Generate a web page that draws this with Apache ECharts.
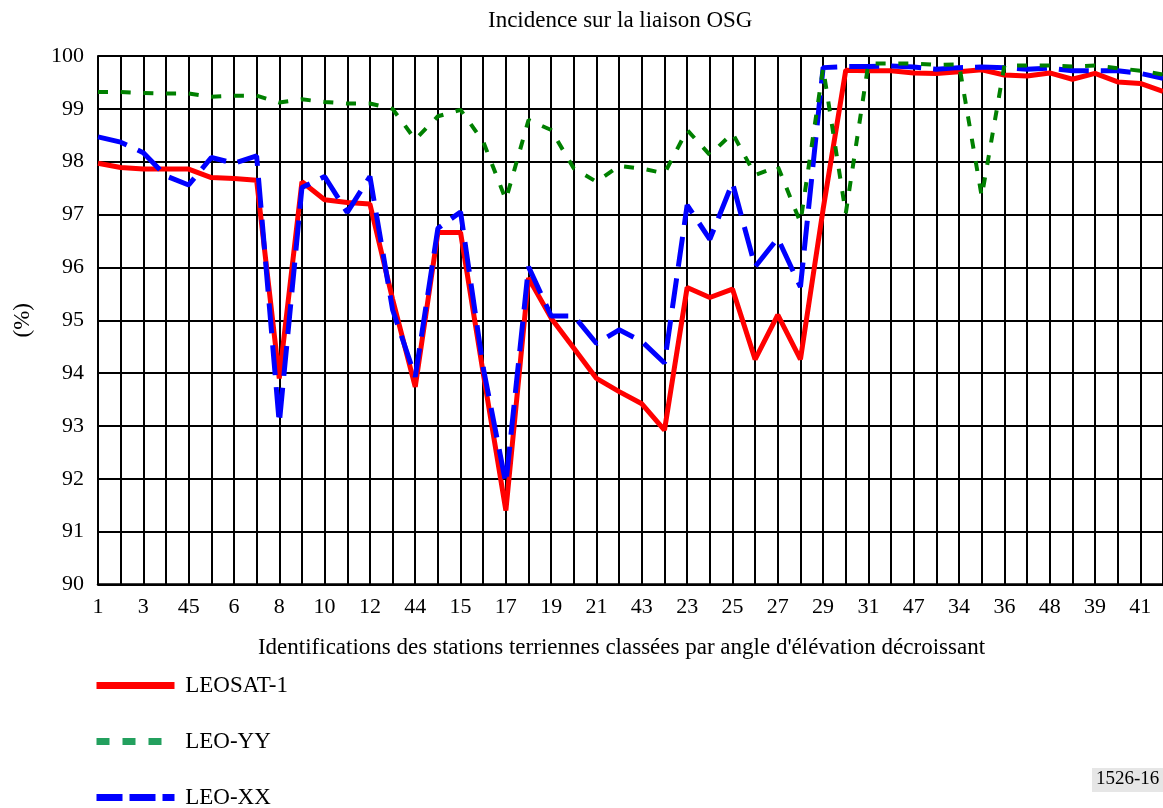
<!DOCTYPE html>
<html>
<head>
<meta charset="utf-8">
<script src="https://cdn.jsdelivr.net/npm/echarts@6/dist/echarts.min.js"></script>
<style>
  html, body { margin: 0; padding: 0; background: #fff; }
  #main { width: 1163px; height: 808px; }
</style>
</head>
<body>
<div id="main"></div>
<script>
// stations, sorted by decreasing elevation angle
var stations = ['1','2','3','4','45','5','6','7','8','9','10','11','12','13','44','14',
  '15','16','17','18','19','20','21','22','43','42','23','24','25','26','27','28',
  '29','30','31','32','47','33','34','35','36','37','48','38','39','40','41','46']

// incidence (%)
var leosat1 = [97.97, 97.89, 97.86, 97.86, 97.86, 97.70, 97.68, 97.65, 93.9, 97.62, 97.28, 97.23,
  97.2, 95.4, 93.74, 96.66, 96.66, 94.0, 91.4, 95.8, 95.04, 94.47, 93.9, 93.65,
  93.42, 92.92, 95.62, 95.43, 95.59, 94.26, 95.1, 94.26, 97.1, 99.73, 99.72, 99.72,
  99.68, 99.67, 99.70, 99.74, 99.64, 99.62, 99.68, 99.56, 99.67, 99.51, 99.48, 99.33]

var leoYY = [99.32, 99.32, 99.30, 99.29, 99.29, 99.23, 99.25, 99.25, 99.12, 99.18, 99.13, 99.10,
  99.10, 99.0, 98.42, 98.86, 98.98, 98.38, 97.28, 98.79, 98.6, 97.87, 97.62, 97.92,
  97.87, 97.78, 98.6, 98.13, 98.54, 97.75, 97.91, 96.85, 99.77, 97.02, 99.86, 99.86,
  99.86, 99.83, 99.84, 97.34, 99.82, 99.82, 99.82, 99.80, 99.82, 99.77, 99.72, 99.65]

var leoXX = [98.47, 98.37, 98.17, 97.73, 97.56, 98.08, 97.97, 98.11, 93.05, 97.51, 97.72, 97.04,
  97.72, 95.2, 93.93, 96.74, 97.05, 94.1, 91.91, 96.01, 95.08, 95.08, 94.56, 94.82,
  94.6, 94.19, 97.18, 96.53, 97.6, 96.01, 96.55, 95.63, 99.78, 99.8, 99.8, 99.81,
  99.79, 99.75, 99.78, 99.79, 99.78, 99.75, 99.77, 99.72, 99.72, 99.72, 99.67, 99.58]

var yTicks = { min: 90, max: 100, step: 1 }

var font = '"Liberation Serif", "Times New Roman", serif'

var myChart = echarts.init(document.getElementById('main'))

// legend icons: plain line, no symbol
var noSymbol = { opacity: 0, borderWidth: 0 }

myChart.setOption({
  animation: false,
  backgroundColor: '#fff',
  textStyle: { fontFamily: font, color: '#000' },
  title: {
    text: 'Incidence sur la liaison OSG',
    left: 483,
    top: 4,
    textStyle: { fontFamily: font, fontSize: 23, fontWeight: 'normal', color: '#000' }
  },
  grid: { left: 98, top: 56, width: 1066, height: 528.5, containLabel: false },
  legend: {
    orient: 'vertical',
    left: 93,
    top: 674,
    height: 140,
    padding: 0,
    itemWidth: 78,
    itemHeight: 14,
    itemGap: 33,
    formatter: ' {name}',
    textStyle: { fontFamily: font, fontSize: 23, color: '#000' },
    data: [
      { name: 'LEOSAT-1', itemStyle: noSymbol, lineStyle: { color: '#ff0000', width: 7, type: 'solid' } },
      { name: 'LEO-YY', itemStyle: noSymbol, lineStyle: { color: '#23a05e', width: 7, type: [13, 13] } },
      { name: 'LEO-XX', itemStyle: noSymbol, lineStyle: { color: '#0000ff', width: 7, type: [26, 7] } }
    ]
  },
  xAxis: {
    type: 'category',
    data: stations,
    boundaryGap: false,
    name: "Identifications des stations terriennes classées par angle d'élévation décroissant",
    nameLocation: 'middle',
    nameGap: 52,
    nameTextStyle: { fontFamily: font, fontSize: 23, color: '#000', padding: [0, 18, 0, 0] },
    axisLine: { lineStyle: { color: '#000', width: 2.5 } },
    axisTick: { show: false },
    axisLabel: { interval: 1, margin: 12, fontFamily: font, fontSize: 22, color: '#000' },
    splitLine: { show: true, interval: 0, lineStyle: { color: '#000', width: 2 } }
  },
  yAxis: {
    type: 'value',
    min: yTicks.min,
    max: yTicks.max,
    interval: yTicks.step,
    name: '(%)',
    nameLocation: 'middle',
    nameGap: 64,
    nameTextStyle: { fontFamily: font, fontSize: 23, color: '#000' },
    axisLine: { show: true, lineStyle: { color: '#000', width: 2 } },
    axisTick: { show: false },
    axisLabel: { margin: 14, fontFamily: font, fontSize: 22, color: '#000' },
    splitLine: { show: true, lineStyle: { color: '#000', width: 2 } }
  },
  series: [
    {
      name: 'LEOSAT-1', type: 'line', data: leosat1, symbol: 'none', z: 3,
      lineStyle: { color: '#ff0000', width: 5 }, itemStyle: { color: '#ff0000' }
    },
    {
      name: 'LEO-XX', type: 'line', data: leoXX, symbol: 'none', z: 4,
      lineStyle: { color: '#0000ff', width: 5, type: [30, 12] }, itemStyle: { color: '#0000ff' }
    },
    {
      name: 'LEO-YY', type: 'line', data: leoYY, symbol: 'none', z: 5,
      lineStyle: { color: '#008000', width: 4, type: [10, 12.7] }, itemStyle: { color: '#008000' }
    }
  ],
  graphic: [
    { type: 'rect', left: 1092, top: 768, shape: { width: 71, height: 24 }, style: { fill: '#e6e6e6' } },
    { type: 'text', left: 1096, top: 770, style: { text: '1526-16', font: '19px ' + font, fill: '#000' } }
  ]
})
</script>
</body>
</html>
